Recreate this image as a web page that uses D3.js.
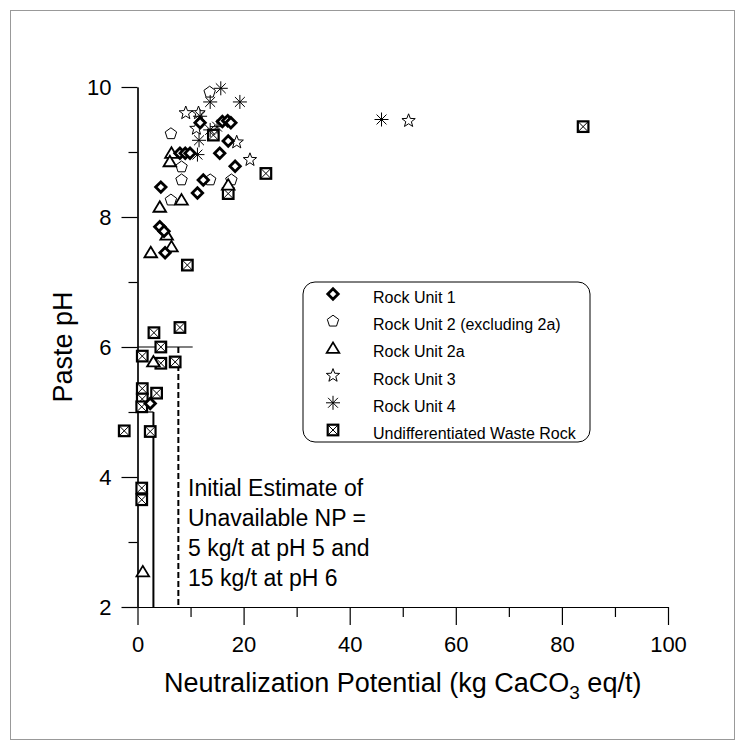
<!DOCTYPE html>
<html><head><meta charset="utf-8">
<script src="https://cdn.jsdelivr.net/npm/d3@7"></script>
<style>body{margin:0;background:#fff}</style>
</head><body><svg id="c" width="745" height="750"></svg>
<script>
// ---------- data ----------
const seriesNames = ["Rock Unit 1","Rock Unit 2 (excluding 2a)","Rock Unit 2a","Rock Unit 3","Rock Unit 4","Undifferentiated Waste Rock"];
// [NP, paste pH]
const rockUnit1 = [[11.8,9.45],[16,9.47],[17,9.48],[17.6,9.45],[17.1,9.17],[15.5,8.98],[8.0,8.98],[9.0,8.98],[9.9,8.98],[18.4,8.78],[12.4,8.57],[4.4,8.46],[11.3,8.37],[4.2,7.85],[5.0,7.78],[5.2,7.45],[2.4,5.13]];
const rockUnit2 = [[13.6,9.92],[6.3,9.28],[8.3,8.77],[8.3,8.57],[13.7,8.57],[17.7,8.57],[6.3,8.26]];
const rockUnit2a = [[6.4,8.98],[6.1,8.85],[17.1,8.49],[8.3,8.26],[4.2,8.15],[5.5,7.72],[6.4,7.54],[2.5,7.45],[3.0,5.77],[1.0,2.54]];
const rockUnit3 = [[9.1,9.6],[11.5,9.6],[11.1,9.36],[18.7,9.15],[21.2,8.88],[51.1,9.48]];
const rockUnit4 = [[15.7,9.98],[13.7,9.77],[19.3,9.77],[11.8,9.55],[13.7,9.34],[15.0,9.39],[11.6,9.18],[11.3,8.96],[46.0,9.5]];
const undifferentiated = [[14.3,9.26],[24.2,8.67],[17.1,8.36],[9.4,7.26],[3.1,6.22],[8.0,6.3],[4.4,6.0],[0.9,5.86],[4.4,5.75],[7.1,5.77],[0.9,5.36],[3.6,5.29],[0.9,5.2],[0.8,5.08],[-2.5,4.71],[2.4,4.7],[0.8,3.83],[0.8,3.65],[84,9.39]];
const xMajorTicks = [0,20,40,60,80,100];
const xMinorTicks = [10,30,50,70,90];
const yMajorTicks = [2,4,6,8,10];
const yMinorTicks = [3,5,7,9];
const thresholdPH = [5,6];          // pH levels
const thresholdNP = [3,7.7];        // vertical lines NP
const thresholdEnd = [3,10.4];      // horizontal line ends NP
const annotationLines = ["Initial Estimate of","Unavailable NP =","5 kg/t at pH 5 and","15 kg/t at pH 6"];
const xTitle = "Neutralization Potential (kg CaCO";
const yTitle = "Paste pH";

// ---------- drawing ----------
const svg = d3.select("#c");
const font = "Arial, 'Liberation Sans', sans-serif";
svg.append("rect").attr("x",10.5).attr("y",10.5).attr("width",724).attr("height",729)
  .attr("fill","none").attr("stroke","#999").attr("stroke-width",1);

const x = d3.scaleLinear().domain([0,100]).range([137.5,668]);
const y = d3.scaleLinear().domain([2,10]).range([607,87]);

const gx = svg.append("g").attr("transform",`translate(0,${y(2)})`);
gx.call(d3.axisBottom(x).tickValues(xMajorTicks).tickSize(18).tickSizeOuter(0).tickPadding(11).tickFormat(d3.format("d")));
const gx2 = svg.append("g").attr("transform",`translate(0,${y(2)})`);
gx2.call(d3.axisBottom(x).tickValues(xMinorTicks).tickSize(10).tickSizeOuter(0).tickFormat(""));
const gy = svg.append("g").attr("transform",`translate(${x(0)},0)`);
gy.call(d3.axisLeft(y).tickValues(yMajorTicks).tickSize(16).tickSizeOuter(0).tickPadding(10).tickFormat(d3.format("d")));
const gy2 = svg.append("g").attr("transform",`translate(${x(0)},0)`);
gy2.call(d3.axisLeft(y).tickValues(yMinorTicks).tickSize(9).tickSizeOuter(0).tickFormat(""));
svg.selectAll(".domain, .tick line").attr("stroke","#000").attr("stroke-width",1.2);
svg.selectAll(".tick text").attr("font-family",font).attr("font-size",22).attr("fill","#000");

// axis titles
const xt = svg.append("text").attr("x",(x(0)+x(100))/2).attr("y",692).attr("text-anchor","middle")
  .attr("font-family",font).attr("font-size",27);
xt.append("tspan").text(xTitle);
xt.append("tspan").attr("font-size",19).attr("dy",7).text("3");
xt.append("tspan").attr("dy",-7).text(" eq/t)");
svg.append("text").attr("transform",`translate(72,${(y(2)+y(10))/2}) rotate(-90)`)
  .attr("text-anchor","middle").attr("font-family",font).attr("font-size",27).text(yTitle);

// threshold lines
svg.append("line").attr("x1",x(0)).attr("x2",x(thresholdEnd[1])).attr("y1",y(thresholdPH[1])).attr("y2",y(thresholdPH[1]))
  .attr("stroke","#000").attr("stroke-width",1.2);
svg.append("line").attr("x1",x(0)).attr("x2",x(thresholdEnd[0])).attr("y1",y(thresholdPH[0])).attr("y2",y(thresholdPH[0]))
  .attr("stroke","#000").attr("stroke-width",1.2);
svg.append("line").attr("x1",x(thresholdNP[0])).attr("x2",x(thresholdNP[0])).attr("y1",y(thresholdPH[0])).attr("y2",y(2))
  .attr("stroke","#000").attr("stroke-width",2);
svg.append("line").attr("x1",x(thresholdNP[1])).attr("x2",x(thresholdNP[1])).attr("y1",y(thresholdPH[1])).attr("y2",y(2))
  .attr("stroke","#000").attr("stroke-width",2).attr("stroke-dasharray","6,3");

// annotation
const ann = svg.append("text").attr("font-family",font).attr("font-size",23);
annotationLines.forEach((t,i)=>ann.append("tspan").attr("x",188).attr("y",496+i*30).text(t));

// symbols
function diamond(g,r){g.append("path").attr("d",`M0,${-r}L${r},0L0,${r}L${-r},0Z`).attr("fill","#fff").attr("stroke","#000").attr("stroke-width",2.8);}
function pentagon(g,r){const p=d3.range(5).map(i=>{const a=-Math.PI/2+i*2*Math.PI/5;return [r*Math.cos(a),r*Math.sin(a)];});
  g.append("path").attr("d","M"+p.join("L")+"Z").attr("fill","#fff").attr("stroke","#000").attr("stroke-width",1);}
function triangle(g,r){g.append("path").attr("d",`M0,${-r}L${r*1.05},${r*0.75}L${-r*1.05},${r*0.75}Z`).attr("fill","#fff").attr("stroke","#000").attr("stroke-width",1.8);}
function star(g,r){const p=d3.range(10).map(i=>{const a=-Math.PI/2+i*Math.PI/5;const rr=i%2?r*0.42:r;return [rr*Math.cos(a),rr*Math.sin(a)];});
  g.append("path").attr("d","M"+p.join("L")+"Z").attr("fill","#fff").attr("stroke","#000").attr("stroke-width",1);}
function asterisk(g,r){d3.range(4).forEach(i=>{const a=i*Math.PI/4;g.append("line").attr("x1",-r*Math.cos(a)).attr("y1",-r*Math.sin(a)).attr("x2",r*Math.cos(a)).attr("y2",r*Math.sin(a)).attr("stroke","#000").attr("stroke-width",1);});}
function boxX(g,r){g.append("rect").attr("x",-r).attr("y",-r).attr("width",2*r).attr("height",2*r).attr("fill","#fff").attr("stroke","#000").attr("stroke-width",2.2);
  g.append("path").attr("d",`M${-r},${-r}L${r},${r}M${r},${-r}L${-r},${r}`).attr("stroke","#000").attr("stroke-width",1);}

const series = [
  {data:rockUnit1, fn:diamond, r:5.2},
  {data:rockUnit2, fn:pentagon, r:6},
  {data:rockUnit2a, fn:triangle, r:6},
  {data:rockUnit3, fn:star, r:7},
  {data:rockUnit4, fn:asterisk, r:7},
  {data:undifferentiated, fn:boxX, r:5.3}
];
const order = [5,1,2,3,4,0];
order.forEach(si=>{
  const s = series[si];
  svg.append("g").selectAll("g").data(s.data).join("g")
    .attr("transform",d=>`translate(${x(d[0])},${y(d[1])})`)
    .each(function(){s.fn(d3.select(this),s.r);});
});

// legend
const lg = svg.append("g");
lg.append("rect").attr("x",303).attr("y",282).attr("width",287).attr("height",160).attr("rx",12)
  .attr("fill","#fff").attr("stroke","#000").attr("stroke-width",1);
seriesNames.forEach((n,i)=>{
  const yy = 297 + i*27.2;
  const g = lg.append("g").attr("transform",`translate(333,${yy-3})`);
  series[i].fn(g, series[i].r);
  lg.append("text").attr("x",373).attr("y",yy+6).attr("font-family",font).attr("font-size",16).text(n);
});
</script></body></html>
